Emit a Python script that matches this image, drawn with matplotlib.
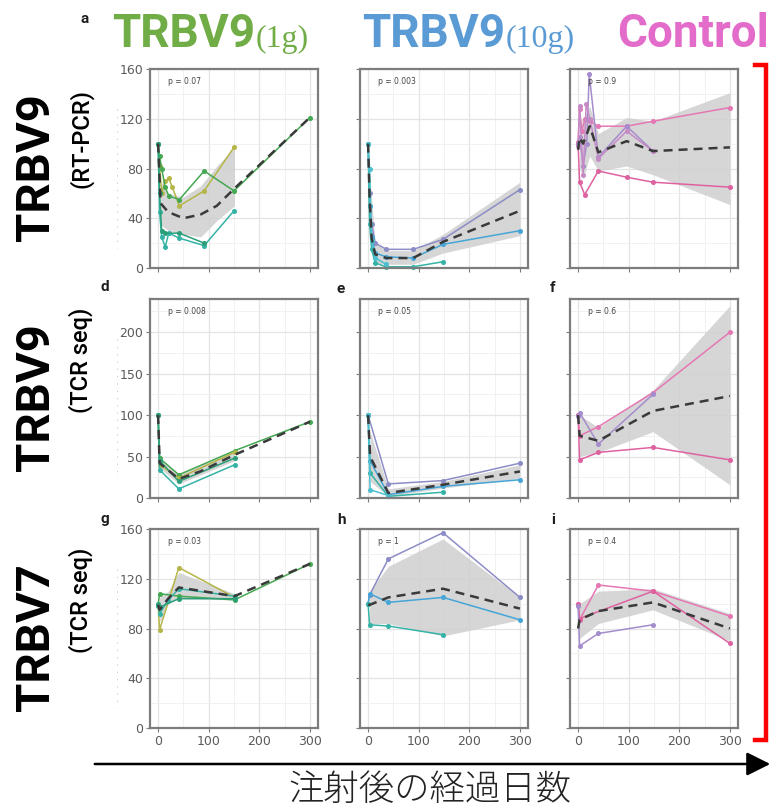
import matplotlib
matplotlib.use("Agg")
import matplotlib.pyplot as plt
from matplotlib import font_manager
from matplotlib.ticker import MultipleLocator
from matplotlib.lines import Line2D
from matplotlib.patches import FancyArrowPatch

# ---------------- data ----------------
# each panel: series name -> (days, relative level); mean curve; band (days, low, high)

# a: TRBV9 1g, RT-PCR
a_series = {
    "olive": ([0, 3, 7, 14, 21, 28, 42, 91, 150], [100, 82, 60, 70, 72, 65, 50, 62, 97]),
    "green": ([0, 3, 7, 14, 21, 42, 91, 150, 300], [100, 90, 80, 65, 58, 55, 78, 62, 121]),
    "teal": ([0, 3, 7, 14, 21, 42, 91, 150], [100, 45, 25, 17, 28, 24, 18, 46]),
    "teal2": ([0, 3, 7, 14, 42, 91], [100, 60, 30, 28, 28, 20]),
}
a_mean = ([0, 5, 20, 50, 84, 116, 151, 300], [100, 52, 45, 40, 43, 50, 64, 121])
a_band = ([5, 20, 50, 84, 116, 151], [35, 30, 27, 25, 38, 50], [70, 60, 57, 66, 82, 97])
a_p = "p = 0.07"

# b: TRBV9 10g, RT-PCR
b_series = {
    "purple": ([0, 3, 7, 14, 36, 89, 148, 300], [100, 60, 35, 20, 15, 15, 23, 63]),
    "blue": ([0, 3, 7, 14, 36, 89, 148, 300], [100, 50, 25, 12, 9, 8, 19, 30]),
    "teal": ([0, 3, 7, 14, 36, 89, 148], [100, 35, 15, 4, 1, 1, 5]),
    "cyan": ([0, 3, 7, 14, 36], [100, 80, 22, 8, 3]),
}
b_mean = ([0, 3, 7, 14, 36, 89, 148, 300], [100, 56, 24, 11, 8, 8, 21, 46])
b_band = ([3, 14, 36, 89, 148, 300], [40, 4, 3, 3, 12, 26], [75, 20, 14, 14, 27, 69])
b_p = "p = 0.003"

# c: control, RT-PCR
c_series = {
    "pink": ([0, 3, 7, 14, 23, 40, 96, 148, 300], [101, 128, 110, 120, 118, 114, 114, 118, 129]),
    "pink2": ([0, 3, 13, 40, 96, 148, 300], [100, 69, 59, 78, 73, 69, 65]),
    "lavender": ([0, 3, 10, 17, 22, 40, 96, 148], [100, 105, 82, 100, 156, 89, 114, 94]),
    "mauve": ([0, 3, 10, 16, 23, 40, 96, 148], [98, 130, 75, 132, 120, 88, 110, 94]),
}
c_mean = ([0, 3, 10, 23, 40, 96, 148, 300], [95, 105, 100, 114, 93, 102, 94, 97])
c_band = ([3, 10, 23, 40, 96, 148, 300], [80, 72, 90, 78, 82, 75, 51], [118, 120, 130, 108, 121, 118, 141])
c_p = "p = 0.9"

# d: TRBV9 1g, TCR seq
d_series = {
    "green": ([0, 3, 41, 151, 300], [100, 48, 28, 57, 92]),
    "olive": ([0, 3, 41, 151], [100, 40, 24, 55]),
    "teal": ([0, 3, 41, 151], [100, 34, 11, 40]),
    "teal2": ([0, 3, 41, 151], [100, 45, 20, 48]),
}
d_mean = ([0, 3, 41, 83, 151, 300], [100, 42, 23, 32, 52, 92])
d_band = ([3, 41, 151], [36, 17, 45], [47, 29, 57])
d_p = "p = 0.008"

# e: TRBV9 10g, TCR seq
e_series = {
    "purple": ([0, 40, 148, 300], [100, 17, 21, 42]),
    "blue": ([0, 4, 40, 148, 300], [100, 45, 4, 14, 22]),
    "teal": ([0, 4, 40, 148], [100, 30, 2, 7]),
    "cyan": ([0, 4, 40], [100, 10, 3]),
}
e_mean = ([0, 4, 40, 148, 300], [100, 50, 6, 16, 32])
e_band = ([4, 40, 148, 300], [20, 2, 12, 24], [80, 11, 20, 40])
e_p = "p = 0.05"

# f: control, TCR seq
f_series = {
    "pink": ([0, 3, 40, 148, 300], [100, 75, 86, 127, 200]),
    "pink2": ([0, 3, 40, 148, 300], [100, 46, 55, 61, 46]),
    "lavender": ([0, 3, 40, 148], [99, 103, 65, 125]),
}
f_mean = ([0, 3, 40, 148, 300], [100, 75, 69, 105, 123])
f_band = ([3, 40, 148, 300], [50, 55, 80, 16], [100, 85, 130, 232])
f_p = "p = 0.6"

# g: TRBV7 1g, TCR seq
g_series = {
    "olive": ([0, 3, 41, 151], [99, 79, 129, 105]),
    "green": ([0, 3, 41, 151, 300], [99, 108, 106, 103, 132]),
    "teal": ([0, 3, 20, 41, 151], [98, 92, 103, 112, 106]),
    "teal2": ([0, 3, 41, 151], [100, 97, 104, 104]),
}
g_mean = ([0, 3, 20, 41, 151, 300], [99, 95, 104, 113, 106, 132])
g_band = ([3, 20, 41, 151], [85, 100, 104, 103], [105, 110, 125, 108])
g_p = "p = 0.03"

# h: TRBV7 10g, TCR seq
h_series = {
    "purple": ([0, 3, 40, 148, 300], [100, 107, 136, 157, 105]),
    "blue": ([0, 3, 40, 148, 300], [100, 108, 101, 105, 87]),
    "teal": ([0, 3, 40, 148], [100, 83, 82, 75]),
}
h_mean = ([0, 3, 40, 148, 300], [99, 99, 105, 112, 96])
h_band = ([3, 40, 148, 300], [84, 84, 74, 87], [110, 130, 152, 105])
h_p = "p = 1"

# i: control, TCR seq (TRBV7)
i_series = {
    "pink": ([0, 3, 40, 148, 300], [100, 87, 115, 110, 90]),
    "pink2": ([0, 3, 148, 300], [100, 88, 110, 68]),
    "lavender": ([0, 3, 40, 148], [98, 66, 76, 83]),
}
i_mean = ([0, 3, 40, 148, 300], [80, 87, 94, 101, 80])
i_band = ([0, 3, 40, 148, 300], [70, 72, 84, 95, 70], [95, 100, 110, 112, 92])
i_p = "p = 0.4"

group_titles = [("TRBV9", "(1g)"), ("TRBV9", "(10g)"), ("Control", "")]
row_titles = [("TRBV9", "(RT-PCR)"), ("TRBV9", "(TCR seq)"), ("TRBV7", "(TCR seq)")]
panel_letters = ["a", "d", "e", "f", "g", "h", "i"]
x_title = "注射後の経過日数"

# ---------------- styles ----------------
LINE_COLORS = {
    "olive": "#b5b548", "green": "#45a852", "teal": "#35b3a6", "teal2": "#2a9f7a",
    "purple": "#8c8cc6", "blue": "#45a5d6", "cyan": "#4cc0cf",
    "pink": "#e577b4", "pink2": "#df62a0", "lavender": "#a58ccc", "mauve": "#c68bc6",
}
HEAD_COLORS = ["#70ad47", "#5b9bd5", "#e36bc9"]

W, H, DPI = 774, 811, 100


def pick_font(candidates):
    names = {f.name for f in font_manager.fontManager.ttflist}
    for c in candidates:
        if c in names:
            return c
    return "DejaVu Sans"


SANS = pick_font(["Roboto", "Liberation Sans", "DejaVu Sans"])
SERIF = pick_font(["Liberation Serif", "DejaVu Serif"])
CJK = pick_font(["Noto Sans CJK JP", "Noto Sans CJK SC"])

fig = plt.figure(figsize=(W / DPI, H / DPI), dpi=DPI)
fig.patch.set_facecolor("white")


def fx(px):
    return px / W


def fy(py):
    return 1 - py / H


col_left = [150, 360, 570]
row_top = [69, 299, 529]
PW, PH = 168, 199
row_ylim = [(0, 160), (0, 240), (0, 160)]
row_major = [40, 50, 40]

panels = [
    [(a_series, a_mean, a_band, a_p), (b_series, b_mean, b_band, b_p), (c_series, c_mean, c_band, c_p)],
    [(d_series, d_mean, d_band, d_p), (e_series, e_mean, e_band, e_p), (f_series, f_mean, f_band, f_p)],
    [(g_series, g_mean, g_band, g_p), (h_series, h_mean, h_band, h_p), (i_series, i_mean, i_band, i_p)],
]

for r in range(3):
    for c in range(3):
        series, mean, band, ptxt = panels[r][c]
        ax = fig.add_axes([fx(col_left[c]), fy(row_top[r] + PH), PW / W, PH / H])
        ax.set_xlim(-16, 316)
        ax.set_ylim(*row_ylim[r])
        ax.xaxis.set_major_locator(MultipleLocator(100))
        ax.xaxis.set_minor_locator(MultipleLocator(50))
        ax.yaxis.set_major_locator(MultipleLocator(row_major[r]))
        ax.yaxis.set_minor_locator(MultipleLocator(row_major[r] / 2))
        ax.grid(which="major", color="#e4e4e4", lw=0.9)
        ax.grid(which="minor", color="#efefef", lw=0.6)
        ax.set_axisbelow(True)
        for s in ax.spines.values():
            s.set_color("#7d7d7d")
            s.set_linewidth(1.6)
        ax.tick_params(which="major", length=3, width=0.8, color="#7d7d7d",
                       labelsize=9, labelcolor="#5a5a5a", pad=2)
        ax.tick_params(which="minor", length=0)
        ax.tick_params(labelbottom=(r == 2), labelleft=(c == 0))

        bx, blo, bhi = band
        ax.fill_between(bx, blo, bhi, color="#cfcfcf", alpha=0.85, lw=0, zorder=1)
        for name, (xs, ys) in series.items():
            ax.plot(xs, ys, color=LINE_COLORS[name], lw=1.1, marker="o", ms=2.6,
                    mec=LINE_COLORS[name], zorder=2, clip_on=False)
        ax.plot(mean[0], mean[1], color="#3a3a3a", lw=1.8, ls=(0, (3.6, 2.4)), zorder=3)
        ax.text(0.11, 0.935, ptxt, transform=ax.transAxes, fontsize=5.5,
                color="#444444", va="center", ha="left")

    # faint remnant of a cropped y-axis title on the left column
    fig.add_artist(Line2D([fx(117), fx(117)], [fy(row_top[r] + 40), fy(row_top[r] + PH - 20)],
                          transform=fig.transFigure, color="#cfcfcf", lw=0.7,
                          ls=(0, (1.5, 6))))

# panel letters
letter_pos = {"a": (85, 19), "d": (105, 287), "e": (341, 289), "f": (553, 288),
              "g": (105, 519), "h": (341, 520), "i": (553, 520)}
for L in panel_letters:
    x, y = letter_pos[L]
    fig.text(fx(x), fy(y), L, fontsize=11, fontweight="bold", color="#1e1e1e",
             ha="center", va="center", family=SANS)

# column headers
renderer = fig.canvas.get_renderer()
head_left = [112, 362, 617]
HEAD_BASE = 47
for (main, sub), x0, col in zip(group_titles, head_left, HEAD_COLORS):
    t = fig.text(fx(x0), fy(HEAD_BASE), main, fontsize=33, fontweight="bold",
                 color=col, ha="left", va="baseline", family=SANS)
    if sub:
        bb = t.get_window_extent(renderer)
        fig.text(bb.x1 / W + 0.001, fy(HEAD_BASE), sub, fontsize=23, color=col,
                 ha="left", va="baseline", family=SERIF)

# row labels
row_centers = [167, 397, 637]
sub_centers = [138, 360, 600]
for (main, sub), yc, ys in zip(row_titles, row_centers, sub_centers):
    fig.text(fx(36), fy(yc), main, fontsize=34, fontweight="bold", rotation=90,
             ha="center", va="center", color="black", family=SANS)
    fig.text(fx(81), fy(ys), sub, fontsize=17, fontweight="medium", rotation=90,
             ha="center", va="center", color="black", family=SANS)

# red bracket on the right
fig.add_artist(Line2D([fx(755), fx(766), fx(766), fx(755)],
                      [fy(65), fy(65), fy(740), fy(740)],
                      transform=fig.transFigure, color="#ff0000", lw=3.2,
                      solid_joinstyle="miter"))

# time arrow and its label
fig.add_artist(FancyArrowPatch((fx(92), fy(764)), (fx(773), fy(764)),
                               transform=fig.transFigure, arrowstyle="-|>,head_length=0.9,head_width=0.45",
                               mutation_scale=16, lw=1.8, color="black"))
fig.text(fx(430), fy(790), x_title, fontsize=25.5, ha="center", va="center",
         color="#222222", family=CJK, fontweight="light")

fig.savefig("out.png", dpi=DPI)
